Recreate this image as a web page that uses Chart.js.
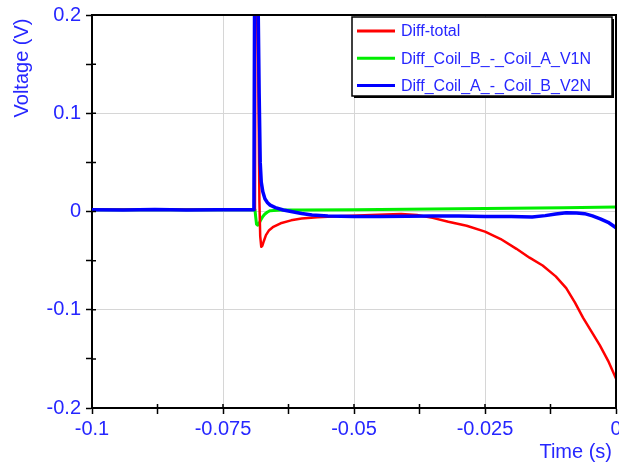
<!DOCTYPE html>
<html>
<head>
<meta charset="utf-8">
<script src="https://cdn.jsdelivr.net/npm/chart.js@4/dist/chart.umd.min.js"></script>
<style>
  body { margin: 0; background: #fff; }
</style>
</head>
<body>
<canvas id="grafica" width="619" height="468"></canvas>
<script>
// values
const seriesNames = ["Diff-total", "Diff_Coil_B_-_Coil_A_V1N", "Diff_Coil_A_-_Coil_B_V2N"];
const seriesColors = ["#ff0000", "#00ee00", "#0000ff"];

const redTime = [-0.1, -0.09, -0.08, -0.0705, -0.0689, -0.06875, -0.0684, -0.0682, -0.06805, -0.0679, -0.0677, -0.0675, -0.0672, -0.0668, -0.0662, -0.0655, -0.064, -0.062, -0.06, -0.057, -0.053, -0.048, -0.044, -0.041, -0.038, -0.035, -0.032, -0.0285, -0.025, -0.022, -0.019, -0.0165, -0.014, -0.0115, -0.0095, -0.0078, -0.0063, -0.0047, -0.0031, -0.0015, 0];
const redVolt = [0.0018, 0.0018, 0.0018, 0.0018, 0.0018, 0.32, 0.24, 0.1, 0.01, -0.025, -0.036, -0.035, -0.03, -0.024, -0.019, -0.016, -0.012, -0.009, -0.0072, -0.0058, -0.0048, -0.0038, -0.003, -0.0025, -0.0035, -0.0065, -0.0105, -0.0145, -0.0205, -0.028, -0.038, -0.047, -0.055, -0.066, -0.078, -0.093, -0.108, -0.122, -0.136, -0.152, -0.17];

const greenTime = [-0.1, -0.09, -0.08, -0.0705, -0.0689, -0.06875, -0.0686, -0.0684, -0.0681, -0.0678, -0.0674, -0.067, -0.0665, -0.066, -0.064, -0.06, -0.05, -0.04, -0.03, -0.02, -0.01, 0];
const greenVolt = [0.0018, 0.0018, 0.0018, 0.0018, 0.0018, -0.006, -0.013, -0.014, -0.012, -0.0085, -0.005, -0.0025, -0.0005, 0.0008, 0.0015, 0.0016, 0.0018, 0.0022, 0.0028, 0.0033, 0.0038, 0.0046];

const blueTime = [-0.1, -0.094, -0.088, -0.082, -0.076, -0.0705, -0.0691, -0.0689, -0.0684, -0.0681, -0.0679, -0.0677, -0.0674, -0.067, -0.0665, -0.066, -0.065, -0.0635, -0.062, -0.06, -0.058, -0.055, -0.05, -0.045, -0.04, -0.035, -0.03, -0.025, -0.02, -0.016, -0.0135, -0.0115, -0.0095, -0.0075, -0.006, -0.0045, -0.003, -0.0015, 0];
const blueVolt = [0.0018, 0.0015, 0.002, 0.0016, 0.0019, 0.0017, 0.0018, 0.34, 0.26, 0.12, 0.05, 0.03, 0.02, 0.013, 0.009, 0.0065, 0.004, 0.0015, 0, -0.002, -0.0035, -0.0045, -0.005, -0.005, -0.0048, -0.0045, -0.0045, -0.005, -0.0052, -0.0055, -0.0042, -0.0025, -0.0012, -0.0015, -0.0022, -0.0045, -0.0075, -0.011, -0.0165];

const xMajor = [-0.1, -0.075, -0.05, -0.025, 0];
const yMajor = [-0.2, -0.1, 0, 0.1, 0.2];

const textBlue = "#2626ff";
const fuente = "Arial, 'Liberation Sans', sans-serif";

function pares(xs, ys) {
  return xs.map((x, i) => ({ x: x, y: ys[i] }));
}

// major ticks plus one minor tick halfway between each pair
function conMenores(major) {
  let out = [];
  for (let i = 0; i < major.length; i++) {
    out.push({ value: major[i], major: true });
    if (i < major.length - 1) out.push({ value: (major[i] + major[i + 1]) / 2, major: false });
  }
  return out;
}

function esMayor(lista, v) {
  return lista.some(m => Math.abs(m - v) < 1e-9);
}

function gridColor(lista) {
  return ctx => {
    const v = ctx.tick ? ctx.tick.value : null;
    if (v === null || !esMayor(lista, v)) return "rgba(0,0,0,0)";
    if (v === lista[0] || v === lista[lista.length - 1]) return "rgba(0,0,0,0)";
    return "#d6d6d6";
  };
}

// frame, inward ticks, titles and the boxed legend
const extras = {
  id: "extras",
  afterDatasetsDraw(chart) {
    const c = chart.ctx;
    const a = chart.chartArea;
    const xs = chart.scales.x;
    const ys = chart.scales.y;
    c.save();
    c.strokeStyle = "#000";
    c.lineWidth = 2;
    c.beginPath();
    c.moveTo(a.left, a.top);
    c.lineTo(a.right, a.top);
    c.lineTo(a.right, a.bottom);
    c.stroke();

    c.lineWidth = 1.5;
    c.beginPath();
    xs.ticks.forEach(t => {
      const px = xs.getPixelForValue(t.value);
      c.moveTo(px, a.bottom);
      c.lineTo(px, a.bottom - 4);
    });
    ys.ticks.forEach(t => {
      const py = ys.getPixelForValue(t.value);
      c.moveTo(a.left, py);
      c.lineTo(a.left + 4, py);
    });
    c.stroke();
    c.restore();
  },
  afterDraw(chart) {
    const c = chart.ctx;
    c.save();
    c.fillStyle = textBlue;
    c.font = "20px " + fuente;
    c.textBaseline = "middle";
    c.textAlign = "right";
    c.fillText("Time (s)", 612, 452);

    c.translate(22, 68);
    c.rotate(-Math.PI / 2);
    c.textAlign = "center";
    c.fillText("Voltage (V)", 0, 0);
    c.restore();

    // legend box
    const lx = 352, ly = 17, lw = 260, lh = 79;
    c.save();
    c.fillStyle = "#000";
    c.fillRect(lx + 2, ly + 2, lw, lh);
    c.fillStyle = "#fff";
    c.fillRect(lx, ly, lw, lh);
    c.strokeStyle = "#000";
    c.lineWidth = 1.5;
    c.strokeRect(lx, ly, lw, lh);
    c.font = "16px " + fuente;
    c.textBaseline = "middle";
    c.textAlign = "left";
    seriesNames.forEach((n, i) => {
      const y = 31 + i * 27.3;
      c.strokeStyle = seriesColors[i];
      c.lineWidth = 3;
      c.beginPath();
      c.moveTo(357, y);
      c.lineTo(395, y);
      c.stroke();
      c.fillStyle = textBlue;
      c.fillText(n, 401, y + 1);
    });
    c.restore();
  }
};

const ctx = document.getElementById("grafica").getContext("2d");
new Chart(ctx, {
  type: "line",
  data: {
    datasets: [
      { label: seriesNames[0], data: pares(redTime, redVolt), borderColor: seriesColors[0], borderWidth: 2.5, order: 1 },
      { label: seriesNames[1], data: pares(greenTime, greenVolt), borderColor: seriesColors[1], borderWidth: 3, order: 2 },
      { label: seriesNames[2], data: pares(blueTime, blueVolt), borderColor: seriesColors[2], borderWidth: 3.5, order: 0 }
    ]
  },
  options: {
    responsive: false,
    animation: false,
    layout: { padding: { top: 15, right: 3, left: 0, bottom: 0 } },
    elements: { point: { radius: 0 }, line: { tension: 0, borderJoinStyle: "round" } },
    plugins: { legend: { display: false }, tooltip: { enabled: false } },
    scales: {
      x: {
        type: "linear",
        min: -0.1,
        max: 0,
        afterBuildTicks: s => { s.ticks = conMenores(xMajor); },
        afterFit: s => { s.height = 60; s.paddingLeft = 0; s.paddingRight = 0; },
        ticks: {
          autoSkip: false,
          maxRotation: 0,
          padding: 3,
          color: textBlue,
          font: { family: fuente, size: 20 },
          callback: v => esMayor(xMajor, v) ? String(Number(v.toFixed(4))) : ""
        },
        grid: { color: gridColor(xMajor), tickColor: "#000", tickLength: 6, tickWidth: 1.5 },
        border: { display: true, color: "#000", width: 2 }
      },
      y: {
        min: -0.2,
        max: 0.2,
        afterBuildTicks: s => { s.ticks = conMenores(yMajor); },
        afterFit: s => { s.width = 92; s.paddingTop = 0; s.paddingBottom = 0; },
        ticks: {
          autoSkip: false,
          padding: 5,
          color: textBlue,
          font: { family: fuente, size: 20 },
          callback: v => esMayor(yMajor, v) ? String(Number(v.toFixed(4))) : ""
        },
        grid: { color: gridColor(yMajor), tickColor: "#000", tickLength: 6, tickWidth: 1.5 },
        border: { display: true, color: "#000", width: 2 }
      }
    }
  },
  plugins: [extras]
});
</script>
</body>
</html>
